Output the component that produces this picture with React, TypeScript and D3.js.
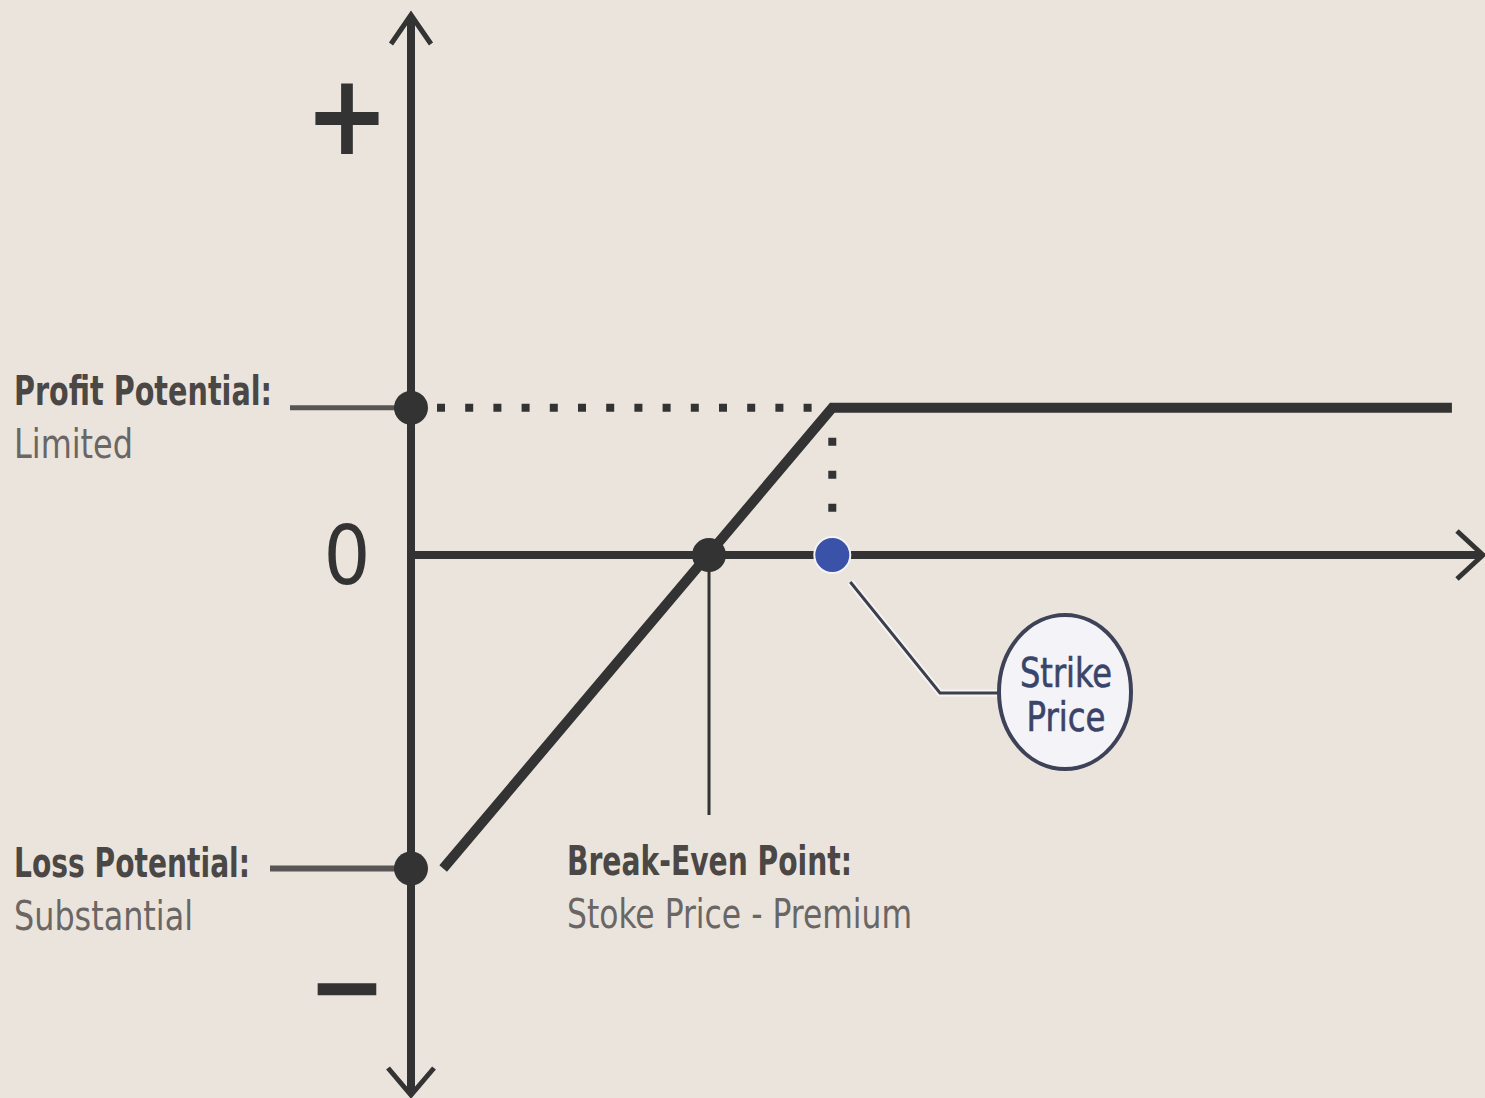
import React, { useEffect, useRef } from 'react';
import * as d3 from 'd3';

// payoff of a short put (price units 0..100, P/L units)
const payoffPrice = [3.0, 39.3, 97.1];
const payoffValue = [-24.5, 11.5, 11.5];
const strikePrice = [39.3];
const premium = [11.5];
const breakEven = [27.8];
const maxLoss = [-24.5];

// sign labels on the vertical axis
const signText = ['+', '0', '\u2212'];
const signValue = [34, 0, -34];

const noteTitles = ['Profit Potential:', 'Loss Potential:', 'Break-Even Point:'];
const noteSubtitles = ['Limited', 'Substantial', 'Stoke Price - Premium'];
const calloutText = ['Strike', 'Price'];

const W = 1485;
const H = 1098;
const INK = '#333333';
const BG = '#eae4dd';
const FONT = "'DejaVu Sans Condensed', 'DejaVu Sans', sans-serif";

const App = () => {
  const svgRef = useRef<SVGSVGElement>(null);

  useEffect(() => {
    const svg = d3.select(svgRef.current);
    svg.selectAll('*').remove();

    const x = d3.scaleLinear().domain([0, 100]).range([411, 1483]);
    const y = d3.scaleLinear().domain([-42.2, 42.2]).range([1095, 15]);

    svg.append('rect').attr('width', W).attr('height', H).attr('fill', BG);

    const [yBottom, yTop] = y.range();
    const x0 = x(0);
    const y0 = y(0);

    // vertical axis
    svg.append('line')
      .attr('x1', x0).attr('x2', x0)
      .attr('y1', yTop + 3).attr('y2', yBottom - 3)
      .attr('stroke', INK).attr('stroke-width', 8);
    // horizontal axis
    svg.append('line')
      .attr('x1', x0).attr('x2', x.range()[1] - 3)
      .attr('y1', y0).attr('y2', y0)
      .attr('stroke', INK).attr('stroke-width', 8);

    // arrow heads (open chevrons)
    const chevron = (pts: [number, number][]) =>
      svg.append('path')
        .attr('d', d3.line()(pts))
        .attr('fill', 'none')
        .attr('stroke', INK)
        .attr('stroke-width', 5)
        .attr('stroke-linejoin', 'miter');
    chevron([[x0 - 20, yTop + 29], [x0, yTop], [x0 + 20, yTop + 29]]);
    chevron([[x0 - 23, yBottom - 27], [x0, yBottom], [x0 + 23, yBottom - 27]]);
    const xEnd = x.range()[1];
    chevron([[xEnd - 26, y0 - 24], [xEnd, y0], [xEnd - 26, y0 + 24]]);

    // dotted guides
    svg.append('line')
      .attr('x1', x0 + 26).attr('x2', x(strikePrice[0]) - 4)
      .attr('y1', y(premium[0])).attr('y2', y(premium[0]))
      .attr('stroke', INK).attr('stroke-width', 8)
      .attr('stroke-dasharray', '8 20.2');
    svg.append('line')
      .attr('x1', x(strikePrice[0])).attr('x2', x(strikePrice[0]))
      .attr('y1', y(premium[0]) + 30).attr('y2', y0 - 40)
      .attr('stroke', INK).attr('stroke-width', 8)
      .attr('stroke-dasharray', '8 25');

    // leader lines
    svg.append('line')
      .attr('x1', 290).attr('x2', x0)
      .attr('y1', y(premium[0])).attr('y2', y(premium[0]))
      .attr('stroke', '#5a5555').attr('stroke-width', 5);
    svg.append('line')
      .attr('x1', 270).attr('x2', x0)
      .attr('y1', y(maxLoss[0])).attr('y2', y(maxLoss[0]))
      .attr('stroke', '#5a5555').attr('stroke-width', 6);
    svg.append('line')
      .attr('x1', x(breakEven[0])).attr('x2', x(breakEven[0]))
      .attr('y1', y0).attr('y2', 815)
      .attr('stroke', INK).attr('stroke-width', 3);

    // payoff line
    const line = d3.line<number>()
      .x((d) => x(d))
      .y((_, i) => y(payoffValue[i]));
    svg.append('path')
      .attr('d', line(payoffPrice))
      .attr('fill', 'none')
      .attr('stroke', INK)
      .attr('stroke-width', 10)
      .attr('stroke-linejoin', 'miter');

    // key points
    const dots = [
      { cx: x0, cy: y(premium[0]), fill: INK },
      { cx: x0, cy: y(maxLoss[0]), fill: INK },
      { cx: x(breakEven[0]), cy: y0, fill: INK },
    ];
    svg.selectAll('circle.key')
      .data(dots)
      .enter()
      .append('circle')
      .attr('class', 'key')
      .attr('cx', (d) => d.cx)
      .attr('cy', (d) => d.cy)
      .attr('r', 17)
      .attr('fill', (d) => d.fill);

    // strike callout
    const sx = x(strikePrice[0]);
    const leader = d3.line()([[sx + 18, y0 + 27], [940, 693], [998, 693]]);
    svg.append('path')
      .attr('d', leader)
      .attr('fill', 'none')
      .attr('stroke', '#f6f4f2')
      .attr('stroke-width', 7);
    svg.append('path')
      .attr('d', leader)
      .attr('fill', 'none')
      .attr('stroke', '#3d3f4c')
      .attr('stroke-width', 3);
    svg.append('circle')
      .attr('cx', sx).attr('cy', y0).attr('r', 18)
      .attr('fill', '#3a52a8')
      .attr('stroke', '#f4f3f6').attr('stroke-width', 2);
    svg.append('ellipse')
      .attr('cx', 1065).attr('cy', 692).attr('rx', 66).attr('ry', 77)
      .attr('fill', '#f4f4f8')
      .attr('stroke', '#3e4258').attr('stroke-width', 4);
    svg.selectAll('text.callout')
      .data(calloutText)
      .enter()
      .append('text')
      .attr('class', 'callout')
      .attr('x', 1066)
      .attr('y', (_, i) => 687 + i * 44)
      .attr('text-anchor', 'middle')
      .attr('font-family', FONT)
      .attr('font-size', 40)
      .attr('fill', '#3a4468')
      .attr('stroke', '#3a4468')
      .attr('stroke-width', 0.6)
      .attr('textLength', (_, i) => [92, 79][i])
      .attr('lengthAdjust', 'spacingAndGlyphs')
      .text((d) => d);

    // sign labels
    svg.selectAll('text.sign')
      .data(signText)
      .enter()
      .append('text')
      .attr('class', 'sign')
      .attr('x', 347)
      .attr('y', (_, i) => y(signValue[i]))
      .attr('dy', (_, i) => [34, 29, 32][i])
      .attr('text-anchor', 'middle')
      .attr('font-family', FONT)
      .attr('font-weight', (_, i) => (i === 1 ? 'normal' : 'bold'))
      .attr('font-size', (_, i) => [112, 82, 104][i])
      .attr('fill', INK)
      .text((d) => d);

    // annotations
    const notePos = [
      { x: 14, y: 405, w: 258, w2: 119 },
      { x: 14, y: 877, w: 236, w2: 179 },
      { x: 567, y: 875, w: 285, w2: 345 },
    ];
    notePos.forEach((p, i) => {
      svg.append('text')
        .attr('x', p.x).attr('y', p.y)
        .attr('font-family', FONT)
        .attr('font-weight', 'bold')
        .attr('font-size', 40)
        .attr('fill', '#4a4745')
        .attr('textLength', p.w)
        .attr('lengthAdjust', 'spacingAndGlyphs')
        .text(noteTitles[i]);
      svg.append('text')
        .attr('x', p.x).attr('y', p.y + 53)
        .attr('font-family', FONT)
        .attr('font-size', 40)
        .attr('fill', '#6a6664')
        .attr('textLength', p.w2)
        .attr('lengthAdjust', 'spacingAndGlyphs')
        .text(noteSubtitles[i]);
    });
  }, []);

  return (
    <svg
      ref={svgRef}
      width={W}
      height={H}
      style={{ position: 'absolute', left: 0, top: 0, display: 'block' }}
    />
  );
};

export default App;
